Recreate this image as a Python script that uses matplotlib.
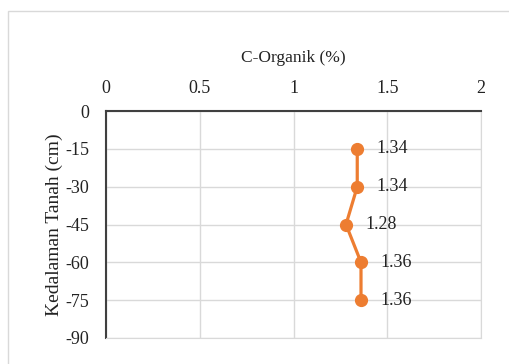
import matplotlib.pyplot as plt
from matplotlib.patches import Rectangle

# C-organic content by soil depth
depth = [-15, -30, -45, -60, -75]
c_organik = [1.34, 1.34, 1.28, 1.36, 1.36]
x_ticks = [0, 0.5, 1, 1.5, 2]
y_ticks = [0, -15, -30, -45, -60, -75, -90]

plt.rcParams["font.family"] = ["Liberation Serif", "DejaVu Serif"]
plt.rcParams["axes.unicode_minus"] = False

W, H = 509, 364
fig = plt.figure(figsize=(W / 100, H / 100), dpi=100)

# chart-area border
fig.patches.append(Rectangle((8 / W, -0.1), 1.2, 1 - 11 / H + 0.1,
                             transform=fig.transFigure, fill=False,
                             edgecolor="#D9D9D9", linewidth=1.0))

ax = fig.add_axes([106 / W, 1 - 338 / H, (481 - 106) / W, (338 - 111) / H])

ax.plot(c_organik, depth, color="#ED7D31", linewidth=2.3, marker="o",
        markersize=8.5, zorder=3, clip_on=False)
for x, y in zip(c_organik, depth):
    ax.annotate(f"{x:.2f}", (x, y), xytext=(14, 0), textcoords="offset points",
                ha="left", va="center", fontsize=13, color="#222222")

ax.set_xlim(0, 2)
ax.set_ylim(-90, 0)
ax.set_xticks(x_ticks)
ax.set_xticklabels(["0", "0.5", "1", "1.5", "2"])
ax.set_yticks(y_ticks)
ax.xaxis.tick_top()
ax.xaxis.set_label_position("top")
ax.tick_params(length=0, labelsize=13, colors="#222222")
ax.tick_params(axis="x", pad=10)
ax.tick_params(axis="y", pad=12)

ax.grid(True, color="#D9D9D9", linewidth=1.0)
ax.set_axisbelow(True)
for side in ["right", "bottom"]:
    ax.spines[side].set_color("#D9D9D9")
for side in ["left", "top"]:
    ax.spines[side].set_color("#404040")
    ax.spines[side].set_linewidth(1.5)

ax.set_xlabel("C-Organik (%)", fontsize=12.5, color="#222222", labelpad=13)
ax.set_ylabel("Kedalaman Tanah (cm)", fontsize=14, color="#222222", labelpad=2)

fig.savefig("out.png", dpi=100)
